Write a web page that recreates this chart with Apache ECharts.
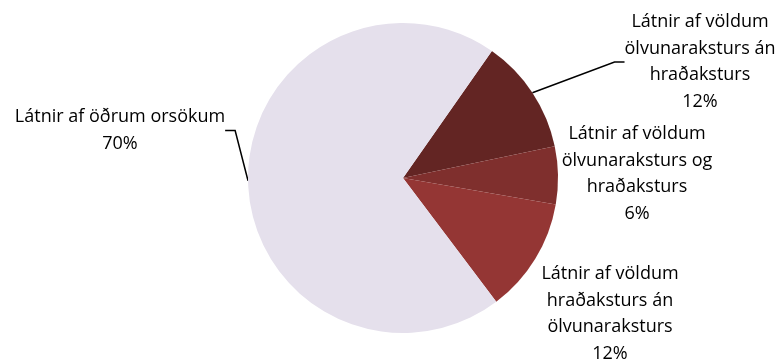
<!DOCTYPE html>
<html><head><meta charset="utf-8">
<script src="https://cdn.jsdelivr.net/npm/echarts@6/dist/echarts.min.js"></script>
<style>html,body{margin:0;padding:0;background:#fff}#c{width:781px;height:363px}</style>
</head><body><div id="c"></div>
<script>
const categories = [
  'Látnir af völdum\nölvunaraksturs án\nhraðaksturs',
  'Látnir af völdum\nölvunaraksturs og\nhraðaksturs',
  'Látnir af völdum\nhraðaksturs án\nölvunaraksturs',
  'Látnir af öðrum orsökum'
];
const values = [12, 6, 12, 70];
const colors = ['#632523', '#7f2f2d', '#943634', '#e5e0ec'];
const showLine = [true, false, false, true];
const labelPos = [[700, 62], [637, 174], [610, 314], [120, 130.5]];

const chart = echarts.init(document.getElementById('c'));
chart.setOption({
  animation: false,
  series: [{
    type: 'pie',
    center: [403, 178],
    radius: 155,
    startAngle: 55,
    clockwise: true,
    data: categories.map((n, i) => ({
      name: n, value: values[i],
      itemStyle: { color: colors[i] },
      labelLine: { show: showLine[i] }
    })),
    label: {
      show: true,
      position: 'outside',
      formatter: p => p.name + '\n' + p.value + '%',
      fontFamily: 'Open Sans',
      fontSize: 18,
      lineHeight: 26.5,
      color: '#000',
      align: 'center'
    },
    labelLine: { show: true, length: 10, length2: 10, lineStyle: { color: '#000', width: 1.5 } },
    labelLayout: function (params) {
      const p = labelPos[params.dataIndex];
      return { x: p[0], y: p[1], align: 'center', verticalAlign: 'middle' };
    }
  }]
});
</script></body></html>
